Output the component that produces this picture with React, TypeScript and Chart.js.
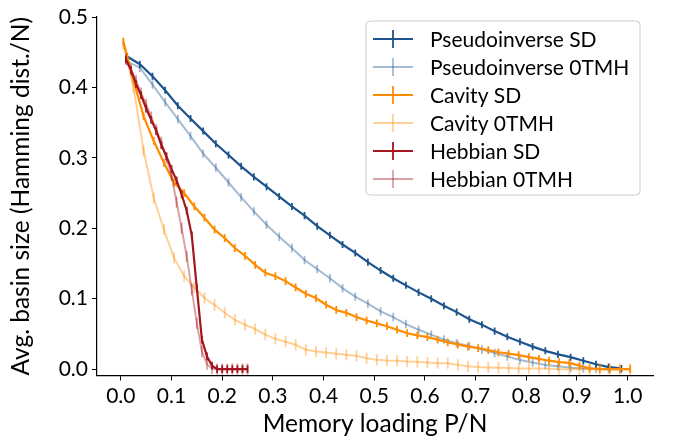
import React, { useEffect, useRef } from "react";
import { Chart, registerables } from "chart.js";

Chart.register(...registerables);

const pseudoX = [0.0125, 0.0375, 0.0625, 0.0875, 0.1125, 0.1375, 0.1625, 0.1875, 0.2125, 0.2375,
  0.2625, 0.2875, 0.3125, 0.3375, 0.3625, 0.3875, 0.4125, 0.4375, 0.4625, 0.4875,
  0.5125, 0.5375, 0.5625, 0.5875, 0.6125, 0.6375, 0.6625, 0.6875, 0.7125, 0.7375,
  0.7625, 0.7875, 0.8125, 0.8375, 0.8625, 0.8875, 0.9125, 0.9375, 0.9625, 0.9875];
const cavityX = [0.005, 0.025, 0.045, 0.065, 0.085, 0.105, 0.125, 0.145, 0.165, 0.185,
  0.205, 0.225, 0.245, 0.265, 0.285, 0.305, 0.325, 0.345, 0.365, 0.385,
  0.405, 0.425, 0.445, 0.465, 0.485, 0.505, 0.525, 0.545, 0.565, 0.585,
  0.605, 0.625, 0.645, 0.665, 0.685, 0.705, 0.725, 0.745, 0.765, 0.785,
  0.805, 0.825, 0.845, 0.865, 0.885, 0.905, 0.925, 0.945, 0.965, 0.985, 1.005];
const hebbX = [0.01, 0.02, 0.03, 0.04, 0.05, 0.06, 0.07, 0.08, 0.09, 0.1,
  0.11, 0.12, 0.13, 0.14, 0.15, 0.16, 0.17, 0.18, 0.19, 0.2,
  0.21, 0.22, 0.23, 0.24, 0.25];

const pseudoSD = [0.444, 0.433, 0.416, 0.396, 0.374, 0.356, 0.338, 0.320, 0.304, 0.288,
  0.273, 0.259, 0.245, 0.231, 0.218, 0.203, 0.190, 0.177, 0.165, 0.152,
  0.140, 0.129, 0.119, 0.109, 0.100, 0.090, 0.081, 0.071, 0.063, 0.054,
  0.046, 0.039, 0.032, 0.026, 0.021, 0.017, 0.012, 0.007, 0.003, 0.001];
const pseudo0TMH = [0.437, 0.428, 0.404, 0.379, 0.355, 0.331, 0.306, 0.286, 0.265, 0.244,
  0.224, 0.205, 0.188, 0.172, 0.155, 0.142, 0.129, 0.115, 0.103, 0.093,
  0.082, 0.074, 0.064, 0.056, 0.049, 0.042, 0.037, 0.033, 0.028, 0.023,
  0.018, 0.013, 0.0095, 0.006, 0.004, 0.002, 0.001, 0.0005, 0, 0];
const cavitySD = [0.465, 0.41, 0.359, 0.324, 0.293, 0.265, 0.250, 0.231, 0.215, 0.198,
  0.186, 0.172, 0.161, 0.148, 0.137, 0.132, 0.125, 0.116, 0.107, 0.101,
  0.0915, 0.084, 0.080, 0.074, 0.069, 0.065, 0.061, 0.056, 0.051, 0.048,
  0.0455, 0.042, 0.038, 0.035, 0.032, 0.030, 0.027, 0.024, 0.022, 0.020,
  0.017, 0.0145, 0.012, 0.010, 0.009, 0.005, 0.001, 0, 0, 0, 0];
const cavity0TMH = [0.462, 0.40, 0.31, 0.243, 0.198, 0.158, 0.132, 0.116, 0.101, 0.091,
  0.080, 0.070, 0.063, 0.057, 0.049, 0.043, 0.039, 0.0346, 0.0275, 0.025,
  0.0236, 0.0218, 0.0204, 0.019, 0.0156, 0.0132, 0.0122, 0.0118, 0.0108, 0.0104,
  0.0094, 0.0085, 0.0085, 0.0061, 0.004, 0.003, 0.0025, 0.002, 0.0015, 0.001,
  0.001, 0.001, 0.0005, 0, 0, 0, 0, 0, 0, 0, 0];
const hebbSD = [0.44, 0.425, 0.405, 0.389, 0.37, 0.354, 0.338, 0.318, 0.302, 0.284,
  0.268, 0.248, 0.225, 0.19, 0.115, 0.042, 0.018, 0.005, 0, 0,
  0, 0, 0, 0, 0];
const hebb0TMH = [0.44, 0.425, 0.41, 0.392, 0.376, 0.358, 0.34, 0.322, 0.30, 0.275,
  0.237, 0.20, 0.16, 0.113, 0.065, 0.025, 0.007, 0.001, 0, 0,
  0, 0, 0, 0, 0];

const seriesLabels = ["Pseudoinverse SD", "Pseudoinverse 0TMH", "Cavity SD", "Cavity 0TMH", "Hebbian SD", "Hebbian 0TMH"];
const seriesErr = [0.005, 0.006, 0.0055, 0.008, 0.0055, 0.008];
const xTicks = [0, 0.1, 0.2, 0.3, 0.4, 0.5, 0.6, 0.7, 0.8, 0.9, 1.0];
const yTicks = [0, 0.1, 0.2, 0.3, 0.4, 0.5];

const seriesColors = [
  "rgb(30,84,140)",
  "rgba(30,84,140,0.4)",
  "rgb(255,140,0)",
  "rgba(255,140,0,0.4)",
  "rgb(165,22,30)",
  "rgba(165,22,30,0.4)",
];
const seriesWidths = [2.2, 2, 2.2, 2, 2.2, 2];

const FONT = "Lato, 'Open Sans', sans-serif";

const errorBarPlugin = {
  id: "errorBars",
  afterDatasetDraw(chart: any, args: any) {
    const ds = chart.data.datasets[args.index];
    const err = ds.errHalf;
    const ys = chart.scales.y;
    const ctx = chart.ctx;
    const area = chart.chartArea;
    ctx.save();
    ctx.beginPath();
    ctx.rect(area.left, area.top, area.right - area.left, area.bottom - area.top);
    ctx.clip();
    ctx.strokeStyle = ds.borderColor;
    ctx.lineWidth = 1.8;
    args.meta.data.forEach((pt: any, i: number) => {
      const v = ds.data[i].y;
      const y1 = ys.getPixelForValue(v - err);
      const y2 = ys.getPixelForValue(v + err);
      ctx.beginPath();
      ctx.moveTo(pt.x, y1);
      ctx.lineTo(pt.x, y2);
      ctx.stroke();
    });
    ctx.restore();
  },
};

const legendPlugin = {
  id: "customLegend",
  afterDraw(chart: any) {
    const ctx = chart.ctx;
    const x0 = 366, y0 = 21, w = 274, h = 174, r = 4;
    ctx.save();
    ctx.beginPath();
    ctx.moveTo(x0 + r, y0);
    ctx.lineTo(x0 + w - r, y0);
    ctx.quadraticCurveTo(x0 + w, y0, x0 + w, y0 + r);
    ctx.lineTo(x0 + w, y0 + h - r);
    ctx.quadraticCurveTo(x0 + w, y0 + h, x0 + w - r, y0 + h);
    ctx.lineTo(x0 + r, y0 + h);
    ctx.quadraticCurveTo(x0, y0 + h, x0, y0 + h - r);
    ctx.lineTo(x0, y0 + r);
    ctx.quadraticCurveTo(x0, y0, x0 + r, y0);
    ctx.closePath();
    ctx.fillStyle = "rgba(255,255,255,0.8)";
    ctx.fill();
    ctx.strokeStyle = "#cccccc";
    ctx.lineWidth = 1;
    ctx.stroke();
    chart.data.datasets.forEach((ds: any, i: number) => {
      const cy = 39 + 28 * i;
      ctx.strokeStyle = ds.borderColor;
      ctx.lineWidth = 2;
      ctx.beginPath();
      ctx.moveTo(373, cy);
      ctx.lineTo(413, cy);
      ctx.stroke();
      ctx.lineWidth = 1.8;
      ctx.beginPath();
      ctx.moveTo(393, cy - 9);
      ctx.lineTo(393, cy + 9);
      ctx.stroke();
      ctx.fillStyle = "#000";
      ctx.font = `21px ${FONT}`;
      ctx.textBaseline = "middle";
      ctx.textAlign = "left";
      ctx.fillText(ds.label, 430, cy + 1);
    });
    ctx.restore();
  },
};

export default function App() {
  const ref = useRef<HTMLCanvasElement>(null);
  useEffect(() => {
    if (!ref.current) return;
    const xs = [pseudoX, pseudoX, cavityX, cavityX, hebbX, hebbX];
    const ysAll = [pseudoSD, pseudo0TMH, cavitySD, cavity0TMH, hebbSD, hebb0TMH];
    const datasets = seriesLabels.map((label, i) => ({
      label,
      data: xs[i].map((x, j) => ({ x, y: ysAll[i][j] })),
      borderColor: seriesColors[i],
      backgroundColor: seriesColors[i],
      borderWidth: seriesWidths[i],
      pointRadius: 0,
      tension: 0,
      fill: false,
      order: -i,
      errHalf: seriesErr[i],
    }));
    const chart = new Chart(ref.current, {
      type: "line",
      data: { datasets } as any,
      options: {
        animation: false,
        responsive: false,
        devicePixelRatio: 1,
        layout: { padding: { left: 0, top: 17, right: 20, bottom: 0 } },
        plugins: { legend: { display: false }, tooltip: { enabled: false } },
        scales: {
          x: {
            type: "linear",
            min: -0.047,
            max: 1.05,
            afterBuildTicks: (s: any) => { s.ticks = xTicks.map((v) => ({ value: v })); },
            afterFit: (s: any) => { s.height = 65.5; },
            ticks: {
              color: "#000",
              font: { family: FONT, size: 21 },
              padding: 3,
              callback: (v: any) => Number(v).toFixed(1),
              maxRotation: 0,
            },
            grid: { display: true, drawOnChartArea: false, drawTicks: true, tickLength: 5, color: "#000" },
            border: { display: true, color: "#000", width: 1.2 },
            title: { display: true, text: "Memory loading P/N", color: "#000", font: { family: FONT, size: 24.5 }, padding: { top: 0, bottom: 2 } },
          },
          y: {
            type: "linear",
            min: -0.009,
            max: 0.5,
            afterBuildTicks: (s: any) => { s.ticks = yTicks.map((v) => ({ value: v })); },
            afterFit: (s: any) => { s.width = 97; },
            ticks: {
              color: "#000",
              font: { family: FONT, size: 21 },
              padding: 4,
              callback: (v: any) => Number(v).toFixed(1),
            },
            grid: { display: true, drawOnChartArea: false, drawTicks: true, tickLength: 5, color: "#000" },
            border: { display: true, color: "#000", width: 1.2 },
            title: { display: true, text: "Avg. basin size (Hamming dist./N)", color: "#000", font: { family: FONT, size: 24.5 }, padding: { top: 6, bottom: 0 } },
          },
        },
      },
      plugins: [errorBarPlugin, legendPlugin],
    } as any);
    return () => chart.destroy();
  }, []);
  return (
    <div style={{ position: "fixed", left: 0, top: 0, width: 673, height: 441, background: "#fff" }}>
      <canvas ref={ref} width={673} height={441} style={{ width: 673, height: 441, display: "block" }} />
    </div>
  );
}
